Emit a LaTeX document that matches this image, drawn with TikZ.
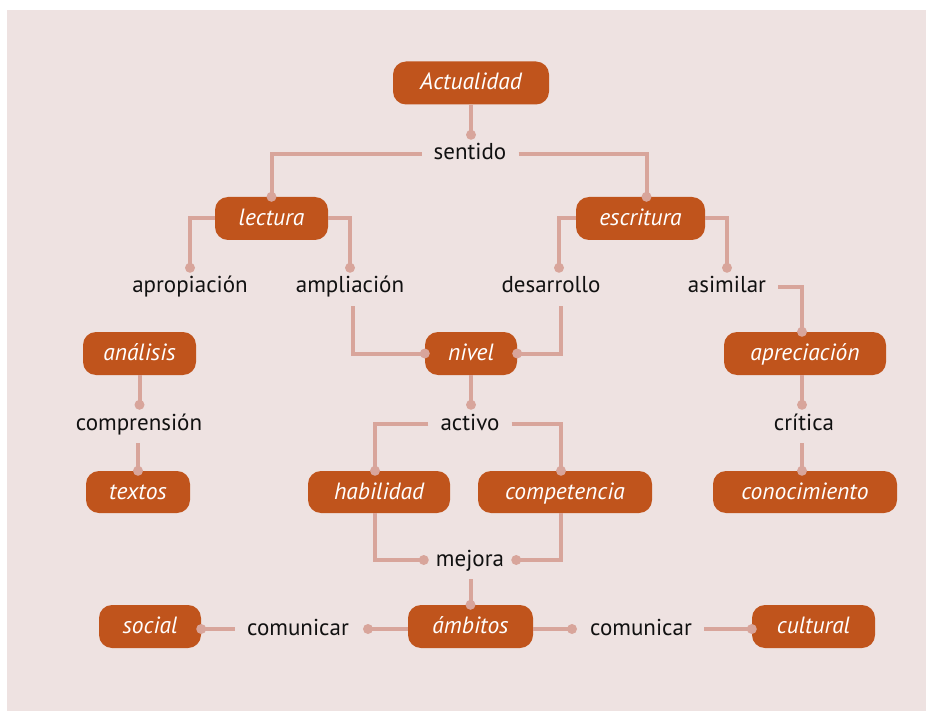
\documentclass[tikz,border=0pt]{standalone}
\usepackage{fontspec}
\setmainfont{PT Sans}
\usetikzlibrary{calc}
\definecolor{bgc}{HTML}{EEE2E1}
\definecolor{boxc}{HTML}{C0541C}
\definecolor{linec}{HTML}{D8A59B}
\definecolor{txtc}{HTML}{111111}
\begin{document}
\begin{tikzpicture}[x=1pt,y=-1pt,
 box/.style={fill=boxc, rounded corners=13pt, text=white, font=\fontsize{23.5}{26}\selectfont\itshape, minimum height=43pt, inner sep=0pt, text height=14pt, text depth=0pt},
 lab/.style={text=txtc, font=\fontsize{23}{26}\selectfont, anchor=base, text height=16pt, text depth=4pt, inner xsep=12pt, inner ysep=9pt},
 conn/.style={draw=linec, line width=4pt},
 dotc/.style={fill=linec}
]
\useasboundingbox (0,0) rectangle (926,711);
\fill[white] (0,0) rectangle (926,711);
\fill[bgc] (7,10) rectangle (926,711);

% boxes
\node[box, minimum width=156pt] (act) at (471,83) {Actualidad};
\node[box, minimum width=113pt] (lec) at (271.5,218.5) {lectura};
\node[box, minimum width=129pt] (esc) at (640.5,218.5) {escritura};
\node[box, minimum width=113pt] (ana) at (139.5,353.5) {análisis};
\node[box, minimum width=92pt] (niv) at (471,353.5) {nivel};
\node[box, minimum width=162pt] (apr) at (805,353.5) {apreciación};
\node[box, minimum width=104pt, minimum height=42pt] (tex) at (138,492) {textos};
\node[box, minimum width=142pt, minimum height=42pt] (hab) at (379,492) {habilidad};
\node[box, minimum width=174pt, minimum height=42pt] (comp) at (565,492) {competencia};
\node[box, minimum width=184pt, minimum height=42pt] (con) at (805,492) {conocimiento};
\node[box, minimum width=102pt] (soc) at (150,626.5) {social};
\node[box, minimum width=125pt] (amb) at (470.5,626.5) {ámbitos};
\node[box, minimum width=123pt] (cul) at (813.5,626.5) {cultural};

% labels
\node[lab] (sent) at (470,160) {sentido};
\node[lab] (apro) at (190,293) {apropiación};
\node[lab] (ampl) at (350,293) {ampliación};
\node[lab] (desa) at (551,293) {desarrollo};
\node[lab] (asim) at (727,293) {asimilar};
\node[lab] (comr) at (139,430) {comprensión};
\node[lab] (actv) at (470,430) {activo};
\node[lab] (crit) at (804,430) {crítica};
\node[lab] (mej) at (470,566) {mejora};
\node[lab] (com1) at (298,635) {comunicar};
\node[lab] (com2) at (641,635) {comunicar};

% connectors
\draw[conn] (act.south) -- (act.south |- sent.north);
\fill[dotc] (act.south |- sent.north) circle[radius=5pt];
\draw[conn] (sent.west) -| (lec.north);
\fill[dotc] (lec.north) circle[radius=5pt];
\draw[conn] (sent.east) -| ([xshift=6pt]esc.north);
\fill[dotc] ([xshift=6pt]esc.north) circle[radius=5pt];
\draw[conn] (lec.west) -| (apro.north);
\fill[dotc] (apro.north) circle[radius=5pt];
\draw[conn] (lec.east) -| (ampl.north);
\fill[dotc] (ampl.north) circle[radius=5pt];
\draw[conn] (esc.west) -| ([xshift=8pt]desa.north);
\fill[dotc] ([xshift=8pt]desa.north) circle[radius=5pt];
\draw[conn] (esc.east) -| (asim.north);
\fill[dotc] (asim.north) circle[radius=5pt];
\draw[conn] ([xshift=3pt]ampl.south) |- (niv.west);
\fill[dotc] (niv.west) circle[radius=5pt];
\draw[conn] ([xshift=10pt]desa.south) |- (niv.east);
\fill[dotc] (niv.east) circle[radius=5pt];
\draw[conn] (asim.east) -| ([xshift=-3pt]apr.north);
\fill[dotc] ([xshift=-3pt]apr.north) circle[radius=5pt];
\draw[conn] ([xshift=-3pt]apr.south) -- ([xshift=-3pt]apr.south |- crit.north);
\fill[dotc] ([xshift=-3pt]apr.south |- crit.north) circle[radius=5pt];
\draw[conn] ([xshift=-3pt]crit.south -| con.north) -- ([xshift=-3pt]con.north);
\fill[dotc] ([xshift=-3pt]con.north) circle[radius=5pt];
\draw[conn] (ana.south) -- (ana.south |- comr.north);
\fill[dotc] (ana.south |- comr.north) circle[radius=5pt];
\draw[conn] (comr.south -| tex.north) -- (tex.north);
\fill[dotc] (tex.north) circle[radius=5pt];
\draw[conn] (niv.south) -- (niv.south |- actv.north);
\fill[dotc] (niv.south |- actv.north) circle[radius=5pt];
\draw[conn] (actv.west) -| ([xshift=-4pt]hab.north);
\fill[dotc] ([xshift=-4pt]hab.north) circle[radius=5pt];
\draw[conn] (actv.east) -| ([xshift=-4pt]comp.north);
\fill[dotc] ([xshift=-4pt]comp.north) circle[radius=5pt];
\draw[conn] ([xshift=-4pt]hab.south) |- (mej.west);
\fill[dotc] (mej.west) circle[radius=5pt];
\draw[conn] ([xshift=-4pt]comp.south) |- (mej.east);
\fill[dotc] (mej.east) circle[radius=5pt];
\draw[conn] (mej.south -| amb.north) -- (amb.north);
\fill[dotc] (amb.north) circle[radius=5pt];
\draw[conn] (com1.west -| soc.east) -- (com1.west);
\fill[dotc] (com1.west -| soc.east) circle[radius=5pt];
\draw[conn] (com1.east -| amb.west) -- ([xshift=7pt]com1.east);
\fill[dotc] ([xshift=7pt]com1.east) circle[radius=5pt];
\draw[conn] (com2.west -| amb.east) -- ([xshift=-6pt]com2.west);
\fill[dotc] ([xshift=-6pt]com2.west) circle[radius=5pt];
\draw[conn] (com2.east) -- (com2.east -| cul.west);
\fill[dotc] (com2.east -| cul.west) circle[radius=5pt];
\end{tikzpicture}
\end{document}
